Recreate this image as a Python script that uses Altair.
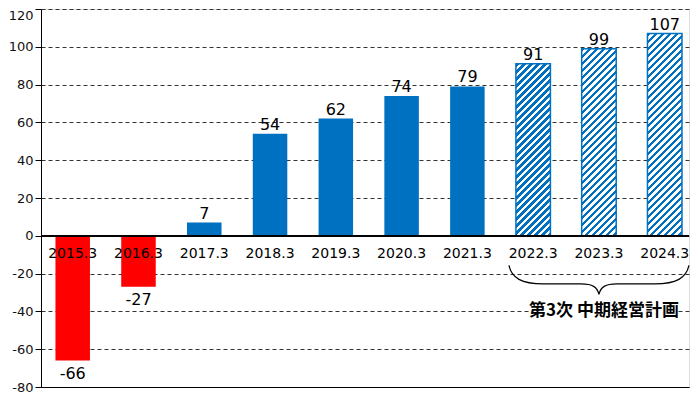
import altair as alt
import pandas as pd

# ---------------- data ----------------
years = ["2015.3", "2016.3", "2017.3", "2018.3", "2019.3",
         "2020.3", "2021.3", "2022.3", "2023.3", "2024.3"]
values = [-66, -27, 7, 54, 62, 74, 79, 91, 99, 107]
kinds = ["actual"] * 7 + ["plan"] * 3
plan_label = ["第3次 中期経営計画"]
y_ticks = [-80, -60, -40, -20, 0, 20, 40, 60, 80, 100, 120]

# annotation anchors (data units)
plan_first, plan_mid, plan_last = "2022.3", "2023.3", "2024.3"
brace_y = [-23.3]
label_y = [-40]

# ---------------- style ----------------
W, H = 648, 378
Y_MIN, Y_MAX = -80, 120
BLUE = "#0070C0"
RED = "#FF0000"
PAD_IN = 0.4755
PAD_OUT = 0.1633
ALIGN = 0.673
NUM_FONT = "DejaVu Sans"
JP_FONT = "Noto Sans CJK JP"

df = pd.DataFrame({"year": years, "value": values, "kind": kinds})
df["fill"] = [RED if v < 0 else BLUE for v in values]
df["vtext"] = [str(v) for v in values]

x_scale = alt.Scale(domain=years, paddingInner=PAD_IN, paddingOuter=PAD_OUT,
                    align=ALIGN)
y_scale = alt.Scale(domain=[Y_MIN, Y_MAX], nice=False, zero=False)

x_axis = alt.Axis(labels=False, ticks=False, title=None, grid=False,
                  domainColor="black", domainWidth=1)
y_axis = alt.Axis(
    values=y_ticks, title=None, grid=True, gridDash=[4, 3],
    gridColor="#333333", gridWidth=1, tickSize=6, tickColor="black",
    domainColor="black", labelFont=NUM_FONT, labelFontSize=13,
    labelColor="#111111", labelPadding=2, labelOverlap=False,
    labelExpr="'' + datum.value",
    labelBaseline={"condition": {"test": "datum.value == 120", "value": "top"},
                   "value": "middle"},
)

x_enc = alt.X("year:N", sort=years, scale=x_scale, axis=x_axis)
y_enc = alt.Y("value:Q", scale=y_scale, axis=y_axis)


def y_datum(v):
    return alt.Y(datum=v, type="quantitative", scale=y_scale, axis=y_axis)


def x_datum(c):
    return alt.X(datum=c, type="nominal", scale=x_scale, axis=x_axis)


base = alt.Chart(df)

solid = base.transform_filter(alt.datum.kind == "actual").mark_bar().encode(
    x=x_enc, y=y_enc, fill=alt.Fill("fill:N", scale=None)
)

# hatched (planned) bars: 45-degree stripes via hard-stop linear gradient
band_w = W / (len(years) - PAD_IN + 2 * PAD_OUT) * (1 - PAD_IN)
px_per_unit = H / (Y_MAX - Y_MIN)
period = 7.0


def hatch(h):
    w = band_w
    k = (w + h) / (w * w + h * h)
    p = period / (w + h)
    stops = []
    i = 0
    while i * p < 1:
        a = i * p
        b = min(a + p / 2, 1)
        c = min(a + p, 1)
        stops += [alt.GradientStop(offset=a, color=BLUE),
                  alt.GradientStop(offset=b, color=BLUE),
                  alt.GradientStop(offset=b, color="white"),
                  alt.GradientStop(offset=c, color="white")]
        i += 1
    return alt.LinearGradient(gradient="linear", x1=0, y1=0, x2=w * k, y2=h * k,
                              stops=stops)


hatched_layers = []
for yr, v, kd in zip(years, values, kinds):
    if kd != "plan":
        continue
    hatched_layers.append(
        base.transform_filter(alt.datum.year == yr)
        .mark_bar(fill=hatch(v * px_per_unit), stroke=BLUE, strokeWidth=1.5)
        .encode(x=x_enc, y=y_enc)
    )

zero_rule = base.mark_rule(color="black", strokeWidth=1).encode(y=y_datum(0))

pos_labels = base.transform_filter(alt.datum.value >= 0).mark_text(
    font=NUM_FONT, fontSize=16, baseline="alphabetic", dy=-4, color="black"
).encode(x=x_enc, y=y_enc, text="vtext:N")

neg_labels = base.transform_filter(alt.datum.value < 0).mark_text(
    font=NUM_FONT, fontSize=16, baseline="top", dy=5, color="black"
).encode(x=x_enc, y=y_enc, text="vtext:N")

cat_labels = base.mark_text(
    font=NUM_FONT, fontSize=14, baseline="top", dy=11, color="black"
).encode(x=x_enc, y=y_datum(0), text="year:N")

ann_df = pd.DataFrame({"label": plan_label, "ly": label_y, "by": brace_y})
ann = alt.Chart(ann_df)

gap = ann.mark_rule(color="white", strokeWidth=6, xOffset=-3, x2Offset=13).encode(
    x=x_datum(plan_first),
    x2=alt.X2(datum=plan_last),
    y=alt.Y("ly:Q", scale=y_scale, axis=y_axis),
)

plan_text = ann.mark_text(
    font=JP_FONT, fontSize=17, fontWeight="bold", color="black", dx=5,
    baseline="middle"
).encode(
    x=x_datum(plan_mid),
    y=alt.Y("ly:Q", scale=y_scale, axis=y_axis),
    text="label:N",
)

brace_path = ("M -1 -0.16 C -0.97 -0.02 -0.86 0.045 -0.62 0.045 L -0.2 0.045 "
              "C -0.07 0.045 -0.02 0.08 0 0.16 C 0.02 0.08 0.07 0.045 0.2 0.045 "
              "L 0.62 0.045 C 0.86 0.045 0.97 -0.02 1 -0.16")
brace = ann.mark_point(
    shape=brace_path, size=180 * 180, filled=False, stroke="black",
    strokeWidth=1.2, opacity=1
).encode(
    x=x_datum(plan_mid),
    y=alt.Y("by:Q", scale=y_scale, axis=y_axis),
)

chart = alt.layer(
    solid, *hatched_layers, zero_rule, pos_labels, neg_labels, cat_labels,
    gap, plan_text, brace
).properties(
    width=W, height=H,
    autosize=alt.AutoSizeParams(type="none"),
    padding={"left": 33, "top": 1, "right": 1, "bottom": 7},
).configure_view(
    stroke="#808080", strokeWidth=1
).configure(background="white")

chart.save("out.html", embed_options={"renderer": "svg", "actions": False})
